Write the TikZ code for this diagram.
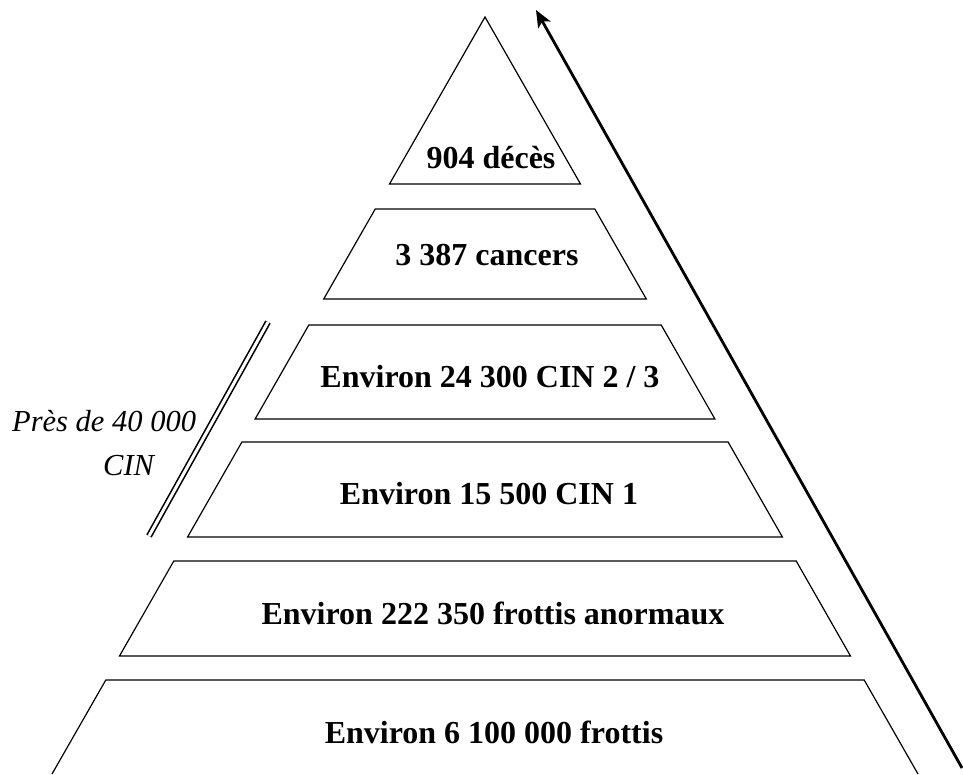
\documentclass[tikz,border=0pt]{standalone}
\usepackage{fontspec}
\setmainfont{Liberation Serif}
\usetikzlibrary{arrows.meta}
\begin{document}
\begin{tikzpicture}[x=1pt,y=-1pt,
  band/.style={draw=black,line width=1.2pt,line join=miter},
  lvl/.style={font=\fontsize{32}{38}\selectfont\bfseries,inner sep=0pt,anchor=base},
  side/.style={font=\fontsize{30.5}{36}\selectfont\itshape,inner sep=0pt,anchor=base west},
  bracket/.style={draw=black,line width=1.6pt,double=white,double distance=3pt},
  trend/.style={draw=black,line width=2.8pt,-{Stealth[length=17pt,width=14pt,inset=4pt]}}]
  \useasboundingbox (0,0) rectangle (963,774);

  % pyramid bands (apex at 485,17; sides slope 0.572 px per px)
  \draw[band] (485,17) -- (580.5,184) -- (389.5,184) -- cycle;
  \draw[band] (375.2,209) -- (594.8,209) -- (646.3,299) -- (323.7,299) -- cycle;
  \draw[band] (308.8,325) -- (661.2,325) -- (714.9,419) -- (255.1,419) -- cycle;
  \draw[band] (241.9,442) -- (728.1,442) -- (782.4,537) -- (187.6,537) -- cycle;
  \draw[band] (173.8,561) -- (796.2,561) -- (850.5,656) -- (119.5,656) -- cycle;
  \draw[band] (52,774) -- (105.8,680) -- (864.2,680) -- (918,774);

  % band labels
  \node[lvl] (deces)   at (491,168) {904 décès};
  \node[lvl] (cancers) at (487,265) {3 387 cancers};
  \node[lvl] (cintwo)  at (490,387) {Environ 24 300 CIN 2 / 3};
  \node[lvl] (cinone)  at (489,504) {Environ 15 500 CIN 1};
  \node[lvl] (anorm)   at (493,624) {Environ 222 350 frottis anormaux};
  \node[lvl] (frottis) at (494,743) {Environ 6 100 000 frottis};

  % grouping of the two CIN bands
  \coordinate (gtop) at (268,322);
  \coordinate (gbot) at (149,536);
  \draw[bracket] (gtop) -- (gbot);
  \node[side] (grpa) at (12,431) {Près de 40 000};
  \node[side] (grpb) at (103,475) {CIN};

  % upward trend arrow
  \coordinate (arrfrom) at (962,768);
  \coordinate (arrto) at (536,10);
  \draw[trend] (arrfrom) -- (arrto);
\end{tikzpicture}
\end{document}
